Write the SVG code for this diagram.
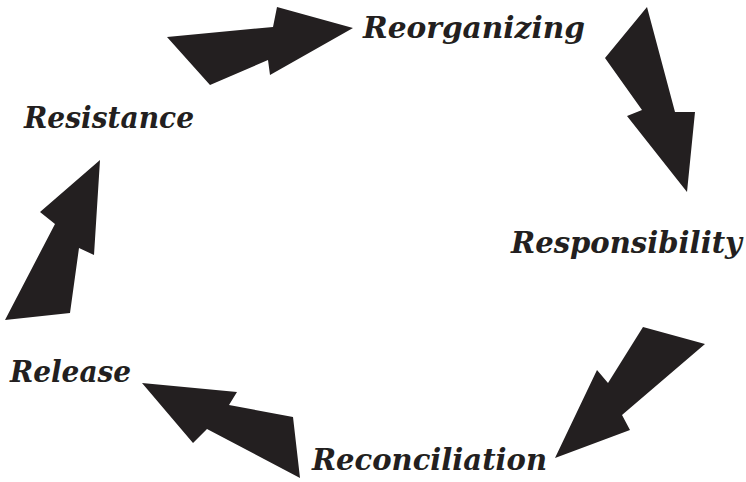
<svg xmlns="http://www.w3.org/2000/svg" width="746" height="482" viewBox="0 0 746 482">
<style>
.lbl{font-family:"DejaVu Serif","Liberation Serif",serif;font-weight:bold;font-style:italic;font-size:29px;fill:#231f20}
.arr{fill:#231f20}
</style>
<rect width="746" height="482" fill="#fff"/>
<g id="connectors">
<polygon class="arr" points="167,37 273,27 277,7 353,28 270,75 268,60 210,85"/>
<polygon class="arr" points="647,7 605,58 642,110 627,116 687,192 695,112 675,112"/>
<polygon class="arr" points="643,327 705,344 622,415 630,430 555,458 597,370 608,383"/>
<polygon class="arr" points="142,383 237,392 229,405 293,417 300,478 207,429 193,443"/>
<polygon class="arr" points="100,160 94,255 79,248 70,313 5,320 55,224 40,212"/>
</g>
<g id="reorganizing"><text class="lbl" x="363" y="38" textLength="222" lengthAdjust="spacingAndGlyphs">Reorganizing</text></g>
<g id="responsibility"><text class="lbl" x="511" y="253" textLength="231" lengthAdjust="spacingAndGlyphs">Responsibility</text></g>
<g id="reconciliation"><text class="lbl" x="312" y="470" textLength="235" lengthAdjust="spacingAndGlyphs">Reconciliation</text></g>
<g id="release"><text class="lbl" x="10" y="382" textLength="121" lengthAdjust="spacingAndGlyphs">Release</text></g>
<g id="resistance"><text class="lbl" x="24" y="128" textLength="170" lengthAdjust="spacingAndGlyphs">Resistance</text></g>
</svg>
